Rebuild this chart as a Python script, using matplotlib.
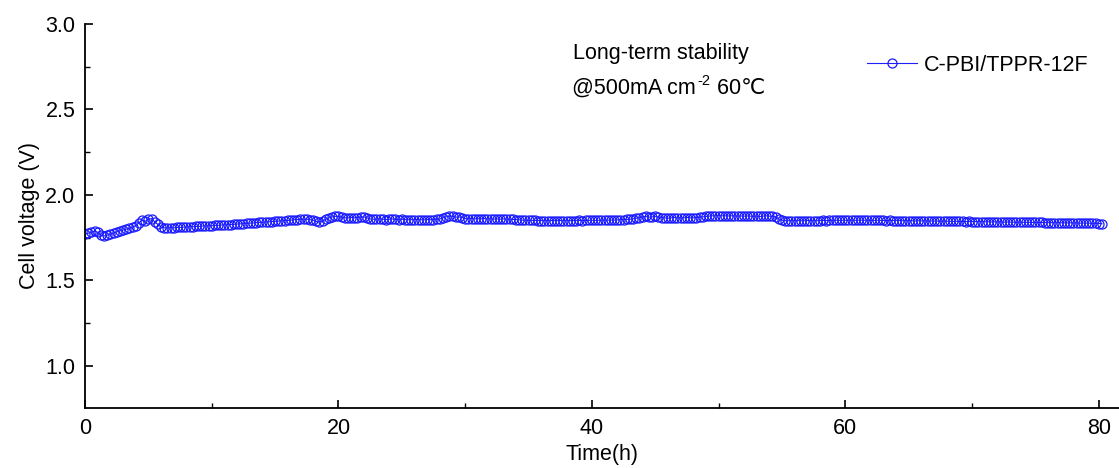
import matplotlib
matplotlib.use("Agg")
import matplotlib.pyplot as plt
import numpy as np

plt.rcParams["font.family"] = ["Liberation Sans", "DejaVu Sans"]

# cell voltage (V), sampled every 0.25 h from t = 0
sample_step_h = 0.25
voltage = [
    1.770, 1.776, 1.783, 1.788, 1.782, 1.765, 1.760, 1.765,
    1.772, 1.778, 1.784, 1.790, 1.795, 1.800, 1.805, 1.812,
    1.820, 1.838, 1.852, 1.846, 1.858, 1.862, 1.842, 1.828,
    1.812, 1.808, 1.806, 1.808, 1.808, 1.810, 1.810, 1.812,
    1.812, 1.814, 1.814, 1.816, 1.816, 1.818, 1.818, 1.819,
    1.820, 1.822, 1.822, 1.824, 1.825, 1.826, 1.827, 1.828,
    1.830, 1.831, 1.832, 1.834, 1.835, 1.836, 1.838, 1.839,
    1.840, 1.842, 1.843, 1.844, 1.846, 1.847, 1.848, 1.850,
    1.851, 1.853, 1.855, 1.856, 1.857, 1.858, 1.858, 1.856,
    1.852, 1.845, 1.842, 1.848, 1.858, 1.866, 1.872, 1.875,
    1.874, 1.870, 1.866, 1.866, 1.868, 1.866, 1.868, 1.870,
    1.872, 1.866, 1.860, 1.858, 1.858, 1.860, 1.858, 1.856,
    1.858, 1.860, 1.857, 1.856, 1.858, 1.856, 1.855, 1.856,
    1.855, 1.856, 1.855, 1.854, 1.856, 1.855, 1.856, 1.858,
    1.860, 1.866, 1.872, 1.876, 1.875, 1.870, 1.872, 1.868,
    1.862, 1.860, 1.862, 1.860, 1.861, 1.860, 1.862, 1.860,
    1.860, 1.859, 1.860, 1.858, 1.860, 1.858, 1.858, 1.857,
    1.856, 1.855, 1.853, 1.852, 1.852, 1.851, 1.851, 1.850,
    1.850, 1.850, 1.849, 1.850, 1.849, 1.850, 1.850, 1.849,
    1.850, 1.849, 1.850, 1.850, 1.851, 1.850, 1.851, 1.851,
    1.852, 1.851, 1.852, 1.852, 1.853, 1.852, 1.853, 1.853,
    1.854, 1.855, 1.856, 1.857, 1.858, 1.860, 1.864, 1.868,
    1.872, 1.874, 1.870, 1.872, 1.874, 1.870, 1.868, 1.866,
    1.864, 1.866, 1.868, 1.866, 1.865, 1.866, 1.868, 1.866,
    1.866, 1.868, 1.870, 1.872, 1.874, 1.876, 1.878, 1.878,
    1.879, 1.878, 1.878, 1.877, 1.878, 1.877, 1.876, 1.877,
    1.876, 1.877, 1.876, 1.875, 1.876, 1.874, 1.876, 1.878,
    1.876, 1.874, 1.872, 1.860, 1.852, 1.850, 1.849, 1.850,
    1.849, 1.850, 1.849, 1.849, 1.850, 1.849, 1.850, 1.849,
    1.850, 1.851, 1.850, 1.851, 1.851, 1.852, 1.851, 1.852,
    1.852, 1.852, 1.853, 1.852, 1.852, 1.853, 1.852, 1.852,
    1.852, 1.851, 1.852, 1.851, 1.851, 1.850, 1.851, 1.850,
    1.850, 1.850, 1.849, 1.850, 1.849, 1.849, 1.848, 1.849,
    1.848, 1.848, 1.847, 1.848, 1.847, 1.847, 1.846, 1.847,
    1.846, 1.846, 1.845, 1.846, 1.845, 1.845, 1.844, 1.845,
    1.844, 1.844, 1.843, 1.844, 1.843, 1.843, 1.842, 1.843,
    1.842, 1.842, 1.841, 1.842, 1.841, 1.841, 1.840, 1.841,
    1.840, 1.840, 1.840, 1.839, 1.840, 1.839, 1.839, 1.838,
    1.838, 1.838, 1.837, 1.838, 1.837, 1.837, 1.836, 1.837,
    1.836, 1.836, 1.835, 1.836, 1.835, 1.835, 1.834, 1.834,
    1.833, 1.832,
]
time_h = sample_step_h * np.arange(len(voltage))

series_label = "C-PBI/TPPR-12F"
note_title = "Long-term stability"
note_current = "@500mA cm"
note_power = "-2"
note_temp = " 60\u2103"

x_ticks = [0, 20, 40, 60, 80]
y_ticks = [1.0, 1.5, 2.0, 2.5, 3.0]

fs = 15.5

fig = plt.figure(figsize=(11.19, 4.68), dpi=100)
ax = fig.add_axes([0.076, 0.128, 0.924, 0.821])

ax.plot(time_h, voltage, color="#2020ff", lw=0.8, marker="o", ms=6.5,
        mfc="none", mec="#1a1aff", mew=0.9, label=series_label)

ax.set_xlim(0, 81.6)
ax.set_ylim(0.754, 3.0)
ax.set_xticks(x_ticks)
ax.set_yticks(y_ticks)
ax.set_xticks([10, 30, 50, 70], minor=True)
ax.set_yticks([1.25, 1.75, 2.25, 2.75], minor=True)
ax.set_yticklabels([f"{v:.1f}" for v in y_ticks])

for side in ("top", "right"):
    ax.spines[side].set_visible(False)
for side in ("left", "bottom"):
    ax.spines[side].set_linewidth(1.3)

ax.tick_params(which="major", direction="in", length=6, width=1.2,
               labelsize=fs, pad=7)
ax.tick_params(which="minor", direction="in", length=3.5, width=1.0)

ax.set_xlabel("Time(h)", fontsize=fs, labelpad=4)
ax.set_ylabel("Cell voltage (V)", fontsize=fs, labelpad=4)

# two-line note; the unit exponent is a small raised text chained after "cm"
ax.text(0.472, 0.908, note_title, transform=ax.transAxes, fontsize=fs,
        va="baseline")
t_cur = ax.text(0.471, 0.818, note_current, transform=ax.transAxes,
                fontsize=fs, va="baseline")
t_pow = ax.annotate(note_power, xy=(1.0, 0.818), xycoords=(t_cur, ax.transAxes),
                    xytext=(1.5, 6.5), textcoords="offset points",
                    fontsize=10.5, va="baseline", ha="left")
ax.annotate(note_temp, xy=(1.0, 0.818), xycoords=(t_pow, ax.transAxes),
            fontsize=fs, va="baseline", ha="left")

ax.legend(loc="upper left", bbox_to_anchor=(867 / 1119, 1 - 55 / 468),
          bbox_transform=fig.transFigure, frameon=False, fontsize=fs,
          handlelength=2.3, handletextpad=0.35, borderpad=0,
          borderaxespad=0)

fig.savefig("out.png", dpi=100)
